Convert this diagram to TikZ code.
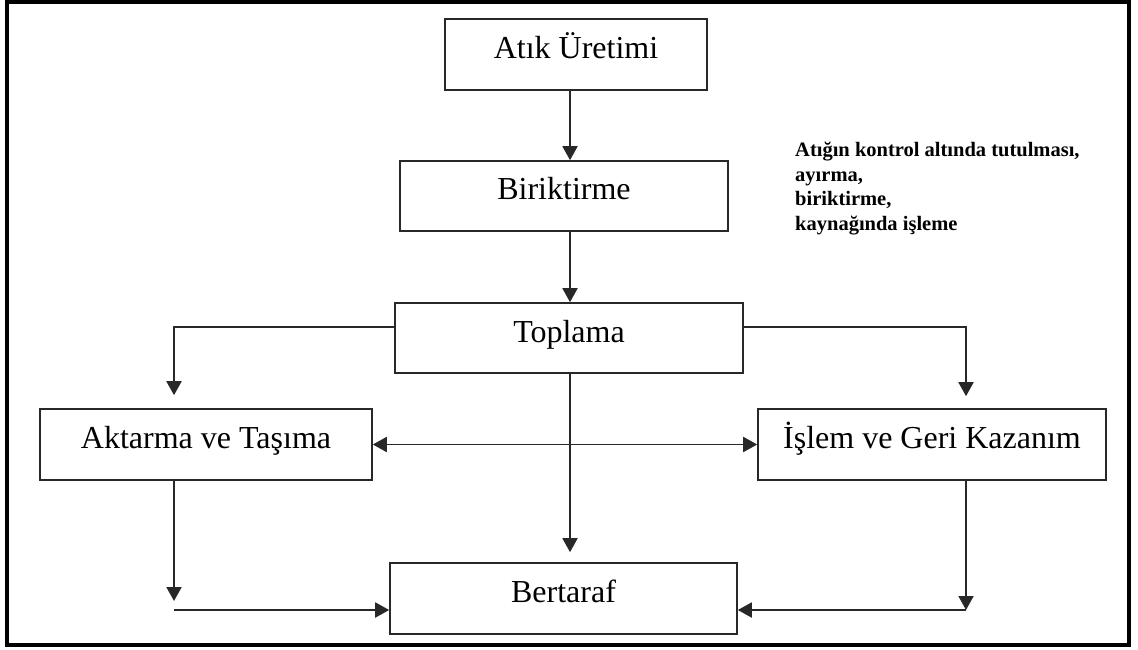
\documentclass[tikz,border=0pt]{standalone}
\usepackage{fontspec}
\setmainfont{Liberation Serif}
\usepackage{tikz}
\usetikzlibrary{arrows.meta,positioning,calc}
\definecolor{wsedge}{RGB}{40,40,40}
\definecolor{wsframe}{RGB}{0,0,0}
\tikzset{
  wsbox/.style={
    draw=wsedge, line width=1.6pt, fill=white,
    align=center, inner sep=0pt, font=\fontsize{32}{36}\selectfont,
    text height=22pt, text depth=14pt, minimum height=71pt
  },
  arr/.style={-{Triangle[length=14pt,width=15pt]}, draw=wsedge, line width=1.9pt},
  darr/.style={{Triangle[length=14pt,width=15pt]}-{Triangle[length=14pt,width=15pt]}, draw=wsedge, line width=1.9pt},
  frame/.style={draw=wsframe, line width=4.8pt},
  anno/.style={font=\bfseries\fontsize{20.5}{24.5}\selectfont, align=left, inner sep=0pt},
  every picture/.append style={line join=miter}
}
\begin{document}
\begin{tikzpicture}[x=1pt,y=-1pt]
  \useasboundingbox (0,0) rectangle (1138,650);
  \draw[frame] (7,2) rectangle (1129,645);
  % boxes
  \node[wsbox, minimum width=262pt] (atik) at (576,54.5) {Atık Üretimi};
  \node[wsbox, minimum width=328pt, minimum height=70pt] (birik) at (564,196) {Biriktirme};
  \node[wsbox, minimum width=348pt, minimum height=70pt] (topla) at (569,338) {Toplama};
  \node[wsbox, minimum width=332pt] (aktar) at (206,444.5) {Aktarma ve Taşıma};
  \node[wsbox, minimum width=348pt] (islem) at (932,444.5) {İşlem ve Geri Kazanım};
  \node[wsbox, minimum width=347pt] (berta) at (563.5,598.5) {Bertaraf};
  \node[anno, anchor=base west] (note) at (795,230)
    {Atığın kontrol altında tutulması,\\ayırma,\\biriktirme,\\kaynağında işleme};
  % helper coordinates
  \coordinate (mid) at (570,327);
  \coordinate (lcol) at (174,327);
  \coordinate (rcol) at (966,327);
  \coordinate (lfoot) at (174,610);
  \coordinate (rfoot) at (966,610);
  % connectors
  \draw[arr] (atik.south -| mid) -- (birik.north -| mid);
  \draw[arr] (birik.south -| mid) -- (topla.north -| mid);
  \draw[arr, shorten >=10pt] (topla.south -| mid) -- (berta.north -| mid);
  \draw[arr, shorten >=13pt] (topla.west |- lcol) -| (aktar.north -| lcol);
  \draw[arr, shorten >=12pt] (topla.east |- rcol) -| (islem.north -| rcol);
  \draw[darr] (aktar.east) -- (islem.west);
  \draw[arr, shorten >=9pt] (aktar.south -| lfoot) -- (lfoot);
  \draw[arr] (lfoot) -- (berta.west |- lfoot);
  \draw[arr] (islem.south -| rfoot) -- (rfoot);
  \draw[arr] (rfoot) -- (berta.east |- rfoot);
\end{tikzpicture}
\end{document}
